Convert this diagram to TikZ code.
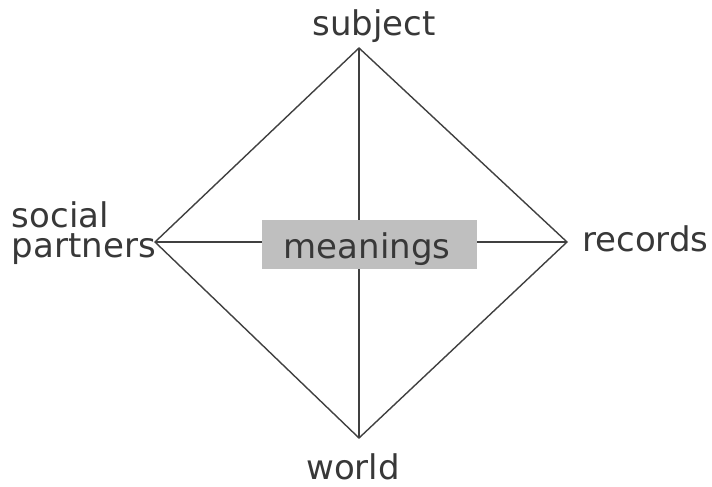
\documentclass[tikz,border=0pt]{standalone}
\usepackage{fontspec}
\setmainfont{DejaVu Sans}
\begin{document}
\begin{tikzpicture}[x=1pt,y=-1pt,
  lbl/.style={font=\fontsize{34}{30}\selectfont, text=black!78, inner sep=0pt, anchor=base},
  edge/.style={draw=black!75, line width=1.4pt}]
\useasboundingbox (0,0) rectangle (712,487);
\coordinate (T) at (359,48);
\coordinate (L) at (155,242);
\coordinate (R) at (567,242);
\coordinate (B) at (359,438);
\draw[edge] (T) -- (L) -- (B) -- (R) -- cycle;
\draw[edge] (T) -- (B);
\draw[edge] (L) -- (R);
\node[fill=black!25, minimum width=215pt, minimum height=49pt, inner sep=0pt] (M) at (369,244) {};
\node[lbl] (Mt) at (367,258) {meanings};
\node[lbl] (S) at (374,36) {subject};
\node[lbl, anchor=base east, align=left] (P) at (156,257) {social\\partners};
\node[lbl, anchor=base west] (Rc) at (582,251) {records};
\node[lbl] (W) at (353,479) {world};
\end{tikzpicture}
\end{document}
